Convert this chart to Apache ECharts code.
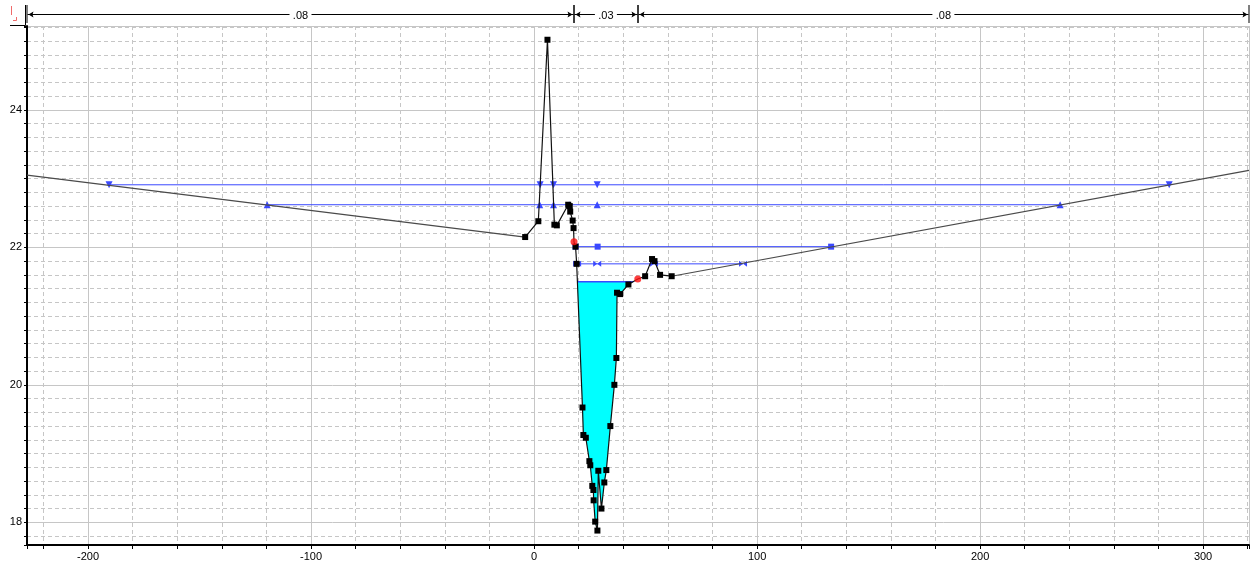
<!DOCTYPE html>
<html>
<head>
<meta charset="utf-8">
<script src="https://cdn.jsdelivr.net/npm/echarts@6/dist/echarts.min.js"></script>
<style>
  html, body { margin: 0; padding: 0; background: #fff; }
  #chart { width: 1252px; height: 569px; }
</style>
</head>
<body>
<div id="chart"></div>
<script>
// Cross-section ground profile (station, elevation)
const groundStation = [
  -227.4, -4.0, 1.9, 6.0, 9.1, 10.2, 15.3, 16.0, 16.2, 17.3, 17.7, 17.9, 18.6, 19.1,
  21.7, 22.1, 23.2, 24.8, 25.2, 26.1, 26.6, 26.7, 27.4, 28.4, 28.8, 30.2, 31.5, 32.4,
  34.2, 36.0, 36.9, 37.2, 38.6, 42.3, 46.5, 49.8, 52.9, 54.0, 56.5, 61.7, 320.6
];
const groundElevation = [
  23.05, 22.15, 22.38, 25.02, 22.33, 22.32, 22.62, 22.60, 22.52, 22.39, 22.28, 22.08, 22.01, 21.76,
  19.67, 19.27, 19.23, 18.89, 18.83, 18.53, 18.47, 18.32, 18.01, 17.88, 18.75, 18.20, 18.58, 18.76,
  19.40, 20.00, 20.39, 21.34, 21.32, 21.46, 21.54, 21.58, 21.83, 21.80, 21.60, 21.58, 23.12
];
// Left and right bank stations (indices into the ground arrays)
const bankIndex = [11, 34];

// Water surface profiles: elevation and stations of their markers
const wsElevation = [22.91, 22.62, 22.01, 21.76];
const wsStations = [
  [-190.6, 2.7, 8.7, 28.3, 284.8],
  [-119.7, 2.5, 8.7, 15.7, 28.3, 235.9],
  [18.6, 28.5, 133.2],
  [19.3, 28.3, 53.8, 93.7]
];
// Filled water level in the main channel
const waterElevation = 21.50;

// Manning's n for left overbank, channel, right overbank
const manningN = [0.08, 0.03, 0.08];

// Axis extents
const X_MIN = -227.4, X_MAX = 320.6;
const Y_MIN = 17.67, Y_MAX = 25.22;

const FONT = '"Liberation Sans", Arial, sans-serif';
const BLUE = '#3a48ff';
const GRID_COLOR = '#c6c6c6';

// Water polygon: ground between the two crossings of the water level in the channel
function waterPolygon() {
  const lo = bankIndex[0], hi = bankIndex[1];
  const pts = [];
  let started = false;
  for (let i = lo; i < hi; i++) {
    const x0 = groundStation[i], y0 = groundElevation[i];
    const x1 = groundStation[i + 1], y1 = groundElevation[i + 1];
    if (y0 < waterElevation && started) pts.push([x0, y0]);
    if ((y0 - waterElevation) * (y1 - waterElevation) < 0) {
      const t = (waterElevation - y0) / (y1 - y0);
      pts.push([x0 + t * (x1 - x0), waterElevation]);
      if (!started) started = true;
    }
  }
  return pts;
}
const waterPts = waterPolygon();
const waterEdge = [waterPts[0], waterPts[waterPts.length - 1]];

// n-value segments: axis edges and bank stations
const nBreaks = [X_MIN, groundStation[bankIndex[0]], groundStation[bankIndex[1]], X_MAX];
const nSegments = manningN.map((n, i) => [nBreaks[i], nBreaks[i + 1], n]);

const lastIdx = groundStation.length - 1;
const groundData = groundStation.map((x, i) => {
  const item = { value: [x, groundElevation[i]] };
  if (i === 0 || i === lastIdx || bankIndex.includes(i)) item.symbol = 'none';
  return item;
});
// overbank reaches drawn a little lighter than the surveyed channel points
const leftOverbank = [[groundStation[0], groundElevation[0]], [groundStation[1], groundElevation[1]]];
const rightOverbank = [[groundStation[lastIdx - 1], groundElevation[lastIdx - 1]], [groundStation[lastIdx], groundElevation[lastIdx]]];

const bowtie = 'path://M0,0L5,5L0,10ZM10,0L5,5L10,10Z';
const wsSymbols = [
  { symbol: 'triangle', size: 7, rotate: 180 },
  { symbol: 'triangle', size: 7, rotate: 0 },
  { symbol: 'rect', size: 6, rotate: 0 },
  { symbol: bowtie, size: [8, 6], rotate: 0 }
];

const wsSeries = wsElevation.map((elev, k) => ({
  type: 'line',
  name: 'WS ' + (k + 1),
  xAxisIndex: 0, yAxisIndex: 0,
  data: wsStations[k].map(x => [x, elev]),
  symbol: wsSymbols[k].symbol,
  symbolSize: wsSymbols[k].size,
  symbolRotate: wsSymbols[k].rotate,
  showAllSymbol: true,
  lineStyle: { color: BLUE, width: 1 },
  itemStyle: { color: BLUE },
  z: 4,
  silent: true,
  animation: false
}));

const chart = echarts.init(document.getElementById('chart'), null, { renderer: 'canvas' });

const axisLabelStyle = { color: '#000', fontSize: 11, fontFamily: FONT };

chart.setOption({
  animation: false,
  backgroundColor: '#fff',
  grid: { left: 27, right: 3, top: 26, bottom: 24, containLabel: false, outerBoundsMode: 'none' },
  xAxis: [
    {
      type: 'value', min: X_MIN, max: X_MAX, splitNumber: 5, position: 'bottom',
      axisLine: { show: true, onZero: false, lineStyle: { color: '#000', width: 2 } },
      axisTick: { show: false },
      axisLabel: Object.assign({ margin: 6, showMinLabel: false, showMaxLabel: false,
        formatter: v => String(Math.round(v)) }, axisLabelStyle),
      splitLine: { show: true, lineStyle: { color: GRID_COLOR, width: 1, type: 'solid' } },
      z: 3
    },
    {
      type: 'value', min: X_MIN, max: X_MAX, splitNumber: 27, position: 'bottom',
      axisLine: { show: false, onZero: false },
      axisTick: { show: true, length: 4, lineStyle: { color: '#000', width: 1 } },
      axisLabel: { show: false },
      splitLine: { show: true, lineStyle: { color: GRID_COLOR, width: 1, type: [4, 3] } },
      z: 2
    }
  ],
  yAxis: [
    {
      type: 'value', min: Y_MIN, max: Y_MAX, splitNumber: 4, position: 'left',
      axisLine: { show: true, onZero: false, lineStyle: { color: '#000', width: 2 } },
      axisTick: { show: false },
      axisLabel: Object.assign({ margin: 5, showMinLabel: false, showMaxLabel: false,
        formatter: v => String(Math.round(v)) }, axisLabelStyle),
      splitLine: { show: true, lineStyle: { color: GRID_COLOR, width: 1, type: 'solid' } },
      z: 3
    },
    {
      type: 'value', min: Y_MIN, max: Y_MAX, splitNumber: 38, position: 'left',
      axisLine: { show: false, onZero: false },
      axisTick: { show: true, length: 3, lineStyle: { color: '#000', width: 1 } },
      axisLabel: { show: false },
      splitLine: { show: true, lineStyle: { color: GRID_COLOR, width: 1, type: [4, 3] } },
      z: 2
    }
  ],
  graphic: [
    // corner frame and marker at the top-left
    { type: 'polyline', shape: { points: [[10, 25.5], [25.5, 25.5], [25.5, 5]] },
      style: { stroke: '#000', lineWidth: 1, fill: null }, silent: true, z: 10 },
    { type: 'line', shape: { x1: 11.5, y1: 6, x2: 11.5, y2: 15 },
      style: { stroke: '#f06a6a', lineWidth: 1 }, silent: true, z: 10 },
    { type: 'polyline', shape: { points: [[13, 20.5], [16.5, 20.5], [16.5, 17]] },
      style: { stroke: '#f06a6a', lineWidth: 1, fill: null }, silent: true, z: 10 }
  ],
  series: [
    // water in the main channel
    {
      type: 'custom',
      name: 'Water',
      xAxisIndex: 0, yAxisIndex: 0,
      data: [[waterPts[0][0], waterElevation]],
      renderItem: (params, api) => ({
        type: 'polygon',
        shape: { points: waterPts.map(p => api.coord(p)) },
        style: { fill: '#00ffff', stroke: null }
      }),
      z: 3, silent: true, animation: false
    },
    {
      type: 'line',
      name: 'Water level',
      xAxisIndex: 0, yAxisIndex: 0,
      data: waterEdge,
      symbol: 'none',
      lineStyle: { color: BLUE, width: 1.5 },
      z: 4, silent: true, animation: false
    },
    ...wsSeries,
    // overbank ground reaches
    {
      type: 'line', name: 'Ground LOB', xAxisIndex: 0, yAxisIndex: 0,
      data: leftOverbank, symbol: 'none',
      lineStyle: { color: '#4a4a4a', width: 1.2 },
      z: 5, silent: true, animation: false
    },
    {
      type: 'line', name: 'Ground ROB', xAxisIndex: 0, yAxisIndex: 0,
      data: rightOverbank, symbol: 'none',
      lineStyle: { color: '#4a4a4a', width: 1.2 },
      z: 5, silent: true, animation: false
    },
    // ground profile through the surveyed points
    {
      type: 'line',
      name: 'Ground',
      xAxisIndex: 0, yAxisIndex: 0,
      data: groundData.slice(1, lastIdx),
      symbol: 'rect',
      symbolSize: 6,
      showAllSymbol: true,
      lineStyle: { color: '#111', width: 1.2 },
      itemStyle: { color: '#000' },
      z: 5, silent: true, animation: false
    },
    // bank stations
    {
      type: 'scatter',
      name: 'Bank Sta',
      xAxisIndex: 0, yAxisIndex: 0,
      data: bankIndex.map(i => [groundStation[i], groundElevation[i]]),
      symbol: 'circle',
      symbolSize: 7,
      itemStyle: { color: '#ff1010' },
      z: 6, silent: true, animation: false
    },
    // Manning's n dimension bar above the plot
    {
      type: 'custom',
      name: 'n values',
      xAxisIndex: 0, yAxisIndex: 0,
      clip: false,
      encode: { x: [0, 1] },
      data: nSegments,
      renderItem: (params, api) => {
        const xa = api.coord([api.value(0), Y_MAX])[0];
        const xb = api.coord([api.value(1), Y_MAX])[0];
        const n = api.value(2);
        const y = 14.5;
        const mid = (xa + xb) / 2;
        const label = n.toFixed(2).replace(/^0/, '');
        const ax = Math.round(xa) + 0.5, bx = Math.round(xb) - 0.5;
        return {
          type: 'group',
          children: [
            { type: 'line', shape: { x1: ax, y1: y, x2: bx, y2: y }, style: { stroke: '#000', lineWidth: 1 } },
            { type: 'polygon', shape: { points: [[ax + 1, y], [ax + 6, y - 3], [ax + 5, y], [ax + 6, y + 3]] },
              style: { fill: '#000' } },
            { type: 'polygon', shape: { points: [[bx - 1, y], [bx - 6, y - 3], [bx - 5, y], [bx - 6, y + 3]] },
              style: { fill: '#000' } },
            { type: 'line', shape: { x1: ax - 0.5, y1: 5, x2: ax - 0.5, y2: 23 }, style: { stroke: '#000', lineWidth: 1 } },
            { type: 'line', shape: { x1: bx + 0.5, y1: 5, x2: bx + 0.5, y2: 23 }, style: { stroke: '#000', lineWidth: 1 } },
            { type: 'rect', shape: { x: mid - 11, y: y - 6, width: 22, height: 12 }, style: { fill: '#fff' } },
            { type: 'text', style: { text: label, x: mid, y: y + 1, align: 'center', verticalAlign: 'middle',
                font: '11px ' + FONT, fill: '#000' } }
          ]
        };
      },
      z: 10, silent: true, animation: false
    }
  ]
});
</script>
</body>
</html>
